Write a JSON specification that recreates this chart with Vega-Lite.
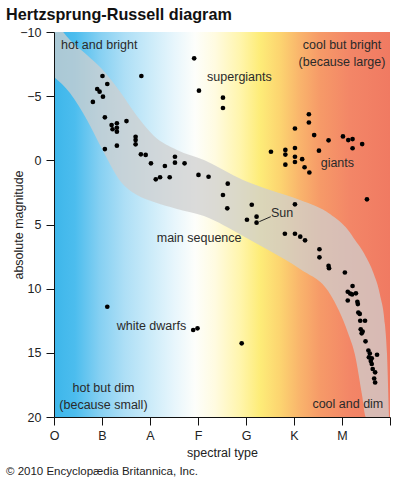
{
  "$schema": "https://vega.github.io/schema/vega-lite/v6.json",
  "width": 336,
  "height": 385,
  "autosize": {"type": "none"},
  "padding": {"left": 54, "top": 32, "right": 8, "bottom": 63},
  "background": "white",
  "config": {"view": {"stroke": null}, "font": "Liberation Sans"},
  "title": {
    "text": "Hertzsprung-Russell diagram",
    "anchor": "start",
    "frame": "group",
    "dx": -48,
    "offset": 3,
    "fontSize": 16.2,
    "fontWeight": "bold",
    "color": "#111111",
    "font": "Liberation Sans"
  },
  "datasets": {
    "band": [
      {"s": 0, "hi": -10.94, "lo": -6.49},
      {"s": 0.333, "hi": -9.38, "lo": -5.25},
      {"s": 0.6875, "hi": -8.21, "lo": -3.14},
      {"s": 0.979, "hi": -7.19, "lo": -1.04},
      {"s": 1.396, "hi": -5.25, "lo": 1.69},
      {"s": 1.729, "hi": -3.45, "lo": 2.70},
      {"s": 2.083, "hi": -1.90, "lo": 3.25},
      {"s": 2.5625, "hi": -0.81, "lo": 3.79},
      {"s": 3.125, "hi": -0.03, "lo": 4.34},
      {"s": 3.9375, "hi": 1.53, "lo": 5.90},
      {"s": 4.5, "hi": 2.31, "lo": 7.07},
      {"s": 5.125, "hi": 3.09, "lo": 8.47},
      {"s": 5.75, "hi": 4.18, "lo": 10.42},
      {"s": 6.125, "hi": 5.43, "lo": 13.45},
      {"s": 6.271, "hi": 6.21, "lo": 15.17},
      {"s": 6.417, "hi": 6.99, "lo": 18.29},
      {"s": 6.5, "hi": 7.53, "lo": 20},
      {"s": 6.646, "hi": 8.70, "lo": 20},
      {"s": 6.792, "hi": 10.49, "lo": 20},
      {"s": 6.896, "hi": 12.83, "lo": 20},
      {"s": 6.9375, "hi": 15.07, "lo": 20},
      {"s": 6.979, "hi": 20, "lo": 20}
    ],
    "stars": [
      {"s": 2.92, "m": -7.95}, {"s": 3.02, "m": -5.43}, {"s": 3.52, "m": -4.88}, {"s": 3.52, "m": -4.08}, {"s": 1.82, "m": -6.57},
      {"s": 1.01, "m": -6.57}, {"s": 1.11, "m": -5.95}, {"s": 0.90, "m": -5.56}, {"s": 0.95, "m": -5.35}, {"s": 1.02, "m": -4.96},
      {"s": 0.81, "m": -4.55}, {"s": 1.06, "m": -3.35}, {"s": 1.51, "m": -3.06}, {"s": 1.20, "m": -2.75}, {"s": 1.31, "m": -2.89},
      {"s": 1.22, "m": -2.42}, {"s": 1.31, "m": -2.54}, {"s": 1.31, "m": -2.23}, {"s": 1.70, "m": -1.84}, {"s": 1.70, "m": -1.58},
      {"s": 1.70, "m": -1.25}, {"s": 1.06, "m": -0.88}, {"s": 1.31, "m": -1.14}, {"s": 1.81, "m": -0.47}, {"s": 1.91, "m": -0.42},
      {"s": 2.02, "m": 0.23}, {"s": 2.31, "m": 0.44}, {"s": 2.52, "m": -0.28}, {"s": 2.52, "m": 0.18}, {"s": 2.72, "m": 0.23},
      {"s": 2.12, "m": 1.48}, {"s": 2.21, "m": 1.32}, {"s": 2.41, "m": 1.32}, {"s": 3.01, "m": 1.14}, {"s": 3.22, "m": 1.28},
      {"s": 3.62, "m": 1.82}, {"s": 3.52, "m": 2.70}, {"s": 3.61, "m": 3.74}, {"s": 4.12, "m": 3.46}, {"s": 4.02, "m": 4.63},
      {"s": 4.22, "m": 4.39}, {"s": 4.22, "m": 4.86}, {"s": 4.81, "m": 5.72}, {"s": 5.02, "m": 5.72}, {"s": 5.13, "m": 5.95},
      {"s": 5.23, "m": 6.23}, {"s": 5.53, "m": 6.93}, {"s": 5.53, "m": 7.56}, {"s": 5.72, "m": 8.23}, {"s": 5.73, "m": 8.41},
      {"s": 6.06, "m": 8.74}, {"s": 6.22, "m": 9.79}, {"s": 6.12, "m": 10.24}, {"s": 6.17, "m": 10.38}, {"s": 6.21, "m": 10.45},
      {"s": 6.29, "m": 10.36}, {"s": 6.12, "m": 10.92}, {"s": 6.32, "m": 11.02}, {"s": 6.33, "m": 11.20}, {"s": 6.34, "m": 11.86},
      {"s": 6.37, "m": 11.97}, {"s": 6.38, "m": 12.50}, {"s": 6.48, "m": 12.50}, {"s": 6.39, "m": 13.17}, {"s": 6.43, "m": 13.34},
      {"s": 6.41, "m": 13.48}, {"s": 6.49, "m": 14.10}, {"s": 6.55, "m": 14.82}, {"s": 6.58, "m": 15.05}, {"s": 6.73, "m": 15.15},
      {"s": 6.56, "m": 15.35}, {"s": 6.62, "m": 15.43}, {"s": 6.60, "m": 15.64}, {"s": 6.62, "m": 15.87}, {"s": 6.64, "m": 16.26},
      {"s": 6.69, "m": 16.52}, {"s": 6.67, "m": 17.00}, {"s": 6.69, "m": 17.31},
      {"s": 5.31, "m": -3.59}, {"s": 5.31, "m": -2.95}, {"s": 5.02, "m": -2.48}, {"s": 5.42, "m": -1.97}, {"s": 5.72, "m": -1.56},
      {"s": 6.02, "m": -1.86}, {"s": 6.13, "m": -1.58}, {"s": 6.22, "m": -1.66}, {"s": 6.42, "m": -1.27}, {"s": 6.22, "m": -0.94},
      {"s": 4.52, "m": -0.67}, {"s": 4.82, "m": -0.81}, {"s": 4.82, "m": -0.45}, {"s": 5.02, "m": -0.96}, {"s": 5.52, "m": -0.75},
      {"s": 5.02, "m": -0.28}, {"s": 5.17, "m": -0.09}, {"s": 4.82, "m": 0.34}, {"s": 5.02, "m": 0.13}, {"s": 5.22, "m": 0.54},
      {"s": 5.32, "m": 0.95}, {"s": 6.52, "m": 3.04}, {"s": 5.02, "m": 3.43},
      {"s": 1.11, "m": 11.41}, {"s": 2.90, "m": 13.22}, {"s": 2.99, "m": 13.09}, {"s": 3.91, "m": 14.26}
    ],
    "leftLabels": [
      {"s": 0.146, "m": -8.99, "t": "hot and bright"},
      {"s": 3.19, "m": -6.49, "t": "supergiants"},
      {"s": 5.556, "m": 0.23, "t": "giants"},
      {"s": 4.521, "m": 4.13, "t": "Sun"},
      {"s": 2.14, "m": 6.05, "t": "main sequence"},
      {"s": 1.306, "m": 12.91, "t": "white dwarfs"}
    ],
    "centerLabels": [
      {"s": 6.0, "m": -8.99, "t": "cool but bright"},
      {"s": 6.0, "m": -7.70, "t": "(because large)"},
      {"s": 1.03, "m": 17.74, "t": "hot but dim"},
      {"s": 1.03, "m": 19.10, "t": "(because small)"}
    ],
    "rightLabels": [
      {"s": 6.86, "m": 18.99, "t": "cool and dim"}
    ],
    "credit": [
      {"s": -1.0, "m": 24.3, "t": "© 2010 Encyclopædia Britannica, Inc."}
    ],
    "leader": [
      {"s": 4.277, "m": 4.78, "s2": 4.515, "m2": 4.39}
    ]
  },
  "layer": [
    {
      "data": {"values": [{}]},
      "mark": {
        "type": "rect",
        "fill": {
          "gradient": "linear", "x1": 0, "y1": 0, "x2": 1, "y2": 0,
          "stops": [
            {"offset": 0, "color": "#3db6ea"},
            {"offset": 0.0625, "color": "#4cbdee"},
            {"offset": 0.137, "color": "#86d0f2"},
            {"offset": 0.211, "color": "#aedff6"},
            {"offset": 0.286, "color": "#cbebf9"},
            {"offset": 0.36, "color": "#e8f6fc"},
            {"offset": 0.42, "color": "#fdfefb"},
            {"offset": 0.48, "color": "#fffbe0"},
            {"offset": 0.554, "color": "#fff5ac"},
            {"offset": 0.613, "color": "#fdec78"},
            {"offset": 0.673, "color": "#fcd470"},
            {"offset": 0.732, "color": "#f9b46c"},
            {"offset": 0.792, "color": "#f69a68"},
            {"offset": 0.881, "color": "#f38667"},
            {"offset": 1, "color": "#f07a62"}
          ]
        }
      },
      "encoding": {
        "x": {
          "datum": 0, "type": "quantitative",
          "scale": {"domain": [0, 7], "nice": false, "zero": false},
          "title": "spectral type",
          "axis": {
            "values": [0, 1, 2, 3, 4, 5, 6, 7],
            "labelExpr": "['O','B','A','F','G','K','M',''][datum.value]",
            "title": "spectral type",
            "titleFontWeight": "normal", "titleFontSize": 12.5, "titleColor": "#222222",
            "titleY": 39, "titleBaseline": "alphabetic",
            "labelFontSize": 12.5, "labelColor": "#222222", "labelPadding": 4,
            "tickSize": 8, "tickColor": "#111111", "domainColor": "#111111",
            "grid": false, "zindex": 1, "labelFlush": false
          }
        },
        "x2": {"datum": 7},
        "y": {
          "datum": -10, "type": "quantitative",
          "scale": {"domain": [-10, 20], "reverse": true, "nice": false, "zero": false},
          "title": "absolute magnitude",
          "axis": {
            "values": [-10, -5, 0, 5, 10, 15, 20],
            "title": "absolute magnitude",
            "titleFontWeight": "normal", "titleFontSize": 12.5, "titleColor": "#222222",
            "titleX": -32, "titleBaseline": "alphabetic",
            "labelFontSize": 12.5, "labelColor": "#222222", "labelPadding": 5,
            "tickSize": 8, "tickColor": "#111111", "domainColor": "#111111",
            "grid": false, "zindex": 1, "labelFlush": false
          }
        },
        "y2": {"datum": 20}
      }
    },
    {
      "data": {"name": "band"},
      "mark": {"type": "area", "interpolate": "monotone", "fill": "#cfcfcf", "opacity": 0.75, "clip": true},
      "encoding": {
        "x": {"field": "s", "type": "quantitative", "title": "spectral type"},
        "y": {"field": "hi", "type": "quantitative", "title": "absolute magnitude"},
        "y2": {"field": "lo"}
      }
    },
    {
      "data": {"name": "leader"},
      "mark": {"type": "rule", "color": "#222222", "strokeWidth": 1},
      "encoding": {
        "x": {"field": "s", "type": "quantitative", "title": "spectral type"},
        "y": {"field": "m", "type": "quantitative", "title": "absolute magnitude"},
        "x2": {"field": "s2"},
        "y2": {"field": "m2"}
      }
    },
    {
      "data": {"name": "stars"},
      "mark": {"type": "circle", "size": 22, "color": "#000000", "opacity": 1},
      "encoding": {
        "x": {"field": "s", "type": "quantitative", "title": "spectral type"},
        "y": {"field": "m", "type": "quantitative", "title": "absolute magnitude"}
      }
    },
    {
      "data": {"name": "leftLabels"},
      "mark": {"type": "text", "align": "left", "baseline": "middle", "fontSize": 12.5, "color": "#2a2a2a"},
      "encoding": {
        "x": {"field": "s", "type": "quantitative", "title": "spectral type"},
        "y": {"field": "m", "type": "quantitative", "title": "absolute magnitude"},
        "text": {"field": "t"}
      }
    },
    {
      "data": {"name": "centerLabels"},
      "mark": {"type": "text", "align": "center", "baseline": "middle", "fontSize": 12.5, "color": "#2a2a2a"},
      "encoding": {
        "x": {"field": "s", "type": "quantitative", "title": "spectral type"},
        "y": {"field": "m", "type": "quantitative", "title": "absolute magnitude"},
        "text": {"field": "t"}
      }
    },
    {
      "data": {"name": "rightLabels"},
      "mark": {"type": "text", "align": "right", "baseline": "middle", "fontSize": 12.5, "color": "#2a2a2a"},
      "encoding": {
        "x": {"field": "s", "type": "quantitative", "title": "spectral type"},
        "y": {"field": "m", "type": "quantitative", "title": "absolute magnitude"},
        "text": {"field": "t"}
      }
    },
    {
      "data": {"name": "credit"},
      "mark": {"type": "text", "align": "left", "baseline": "middle", "fontSize": 11.5, "color": "#222222"},
      "encoding": {
        "x": {"field": "s", "type": "quantitative", "title": "spectral type"},
        "y": {"field": "m", "type": "quantitative", "title": "absolute magnitude"},
        "text": {"field": "t"}
      }
    }
  ]
}
